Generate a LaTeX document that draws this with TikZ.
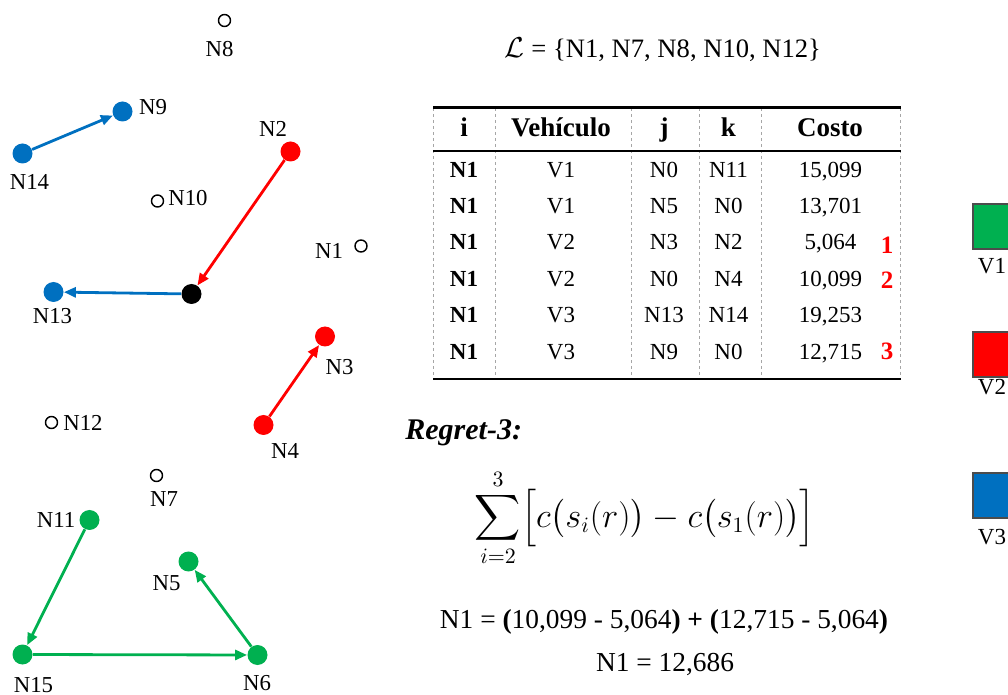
\documentclass[tikz,border=0pt]{standalone}
\usepackage{amsmath,amssymb}
\usepackage{fontspec}
\setmainfont{Liberation Serif}
\usepackage{tikz}
\usetikzlibrary{arrows.meta}

\definecolor{vgreen}{RGB}{0,176,80}
\definecolor{vred}{RGB}{255,0,0}
\definecolor{vblue}{RGB}{0,112,192}

\tikzset{
  visit/.style={circle, fill=#1, minimum size=10pt, inner sep=0pt},
  pending/.style={circle, draw=black, line width=0.7pt, minimum size=6pt, inner sep=0pt},
  lbl/.style={font=\fontsize{11.4}{13}\selectfont, inner sep=0pt},
  route/.style={draw=#1, line width=1.4pt, -{Triangle[length=6pt,width=5pt]}},
  cell/.style={font=\fontsize{11.5}{13}\selectfont, inner sep=0pt, anchor=base},
  head/.style={cell, font=\fontsize{13.5}{15}\selectfont\bfseries},
  legbox/.style={draw=black!70, line width=0.6pt, minimum size=22.5pt, inner sep=0pt},
}

\begin{document}
\begin{tikzpicture}[x=0.5pt, y=-0.5pt]
  \clip (0,0) rectangle (1008,695);

  % Knoten
  \node[pending] (N8) at (224.5,20.5) {};
  \node[pending] (N10) at (157.5,201) {};
  \node[pending] (N1) at (361,246) {};
  \node[pending] (N12) at (51.5,422.5) {};
  \node[pending] (N7) at (156.5,475.5) {};
  \node[visit=vblue] (N9) at (122.5,111.5) {};
  \node[visit=vblue] (N14) at (22.5,153.5) {};
  \node[visit=vblue] (N13) at (53.5,292) {};
  \node[visit=vred] (N2) at (290.5,151.5) {};
  \node[visit=vred] (N3) at (325,336.5) {};
  \node[visit=vred] (N4) at (263.5,425) {};
  \node[visit=black] (N0) at (191.5,294) {};
  \node[visit=vgreen] (N11) at (89.5,520) {};
  \node[visit=vgreen] (N5) at (188.5,561.5) {};
  \node[visit=vgreen] (N15) at (22.5,654.5) {};
  \node[visit=vgreen] (N6) at (257.5,655) {};

  \node[lbl] (tN8) at (219.5,49) {N8};
  \node[lbl] (tN9) at (153,107) {N9};
  \node[lbl] (tN14) at (29.5,182) {N14};
  \node[lbl] (tN2) at (273,128.5) {N2};
  \node[lbl] (tN10) at (188,198) {N10};
  \node[lbl] (tN1) at (329,250.5) {N1};
  \node[lbl] (tN13) at (52.5,316) {N13};
  \node[lbl] (tN3) at (339.5,367) {N3};
  \node[lbl] (tN4) at (285,451) {N4};
  \node[lbl] (tN12) at (83,423) {N12};
  \node[lbl] (tN7) at (164,499.5) {N7};
  \node[lbl] (tN11) at (56,519.5) {N11};
  \node[lbl] (tN5) at (166.5,583.5) {N5};
  \node[lbl] (tN15) at (33.5,685.5) {N15};
  \node[lbl] (tN6) at (257,683.5) {N6};

  % Rutas
  \draw[route=vblue] (N14) -- (N9);
  \draw[route=vred] (N2) -- (N0);
  \draw[route=vblue] (N0) -- (N13);
  \draw[route=vred] (N4) -- (N3);
  \draw[route=vgreen] (N11) -- (N15);
  \draw[route=vgreen] (N15) -- (N6);
  \draw[route=vgreen] (N6) -- (N5);

  % Lista
  \node[font=\fontsize{13.3}{15}\selectfont, inner sep=0pt, anchor=base] (lista) at (663,57.5)
    {$\mathcal{L}$ = \{N1, N7, N8, N10, N12\}};

  % Tabla
  \foreach \x in {433.5,495,631.5,699.5,761.5,900}
    \draw[black!35, line width=0.4pt, dash pattern=on 1.5pt off 1.5pt] (\x,108) -- (\x,379);
  \draw[line width=1.3pt] (433,107.5) -- (901,107.5);
  \draw[line width=1pt] (433,151.5) -- (901,151.5);
  \draw[line width=1.3pt] (433,379) -- (901,379);

  \node[head] (hi) at (464,136.5) {i};
  \node[head] (hveh) at (561,136.5) {Vehículo};
  \node[head] (hj) at (664,136.5) {j};
  \node[head] (hk) at (728.5,136.5) {k};
  \node[head] (hcosto) at (830,136.5) {Costo};

  \foreach \y/\v/\j/\k/\c [count=\r] in {177.3/V1/N0/N11/{15,099}, 213.3/V1/N5/N0/{13,701},
      250/V2/N3/N2/{5,064}, 286.7/V2/N0/N4/{10,099}, 322.7/V3/N13/N14/{19,253}, 359.3/V3/N9/N0/{12,715}} {
    \node[cell, font=\fontsize{11.5}{13}\selectfont\bfseries] (i\r) at (464,\y) {N1};
    \node[cell] (v\r) at (561,\y) {\v};
    \node[cell] (j\r) at (664,\y) {\j};
    \node[cell] (k\r) at (728.5,\y) {\k};
    \node[cell] (c\r) at (830.5,\y) {\c};
  }
  \node[cell, text=vred, font=\fontsize{12.5}{14}\selectfont\bfseries] (rank1) at (887,253.3) {1};
  \node[cell, text=vred, font=\fontsize{12.5}{14}\selectfont\bfseries] (rank2) at (887,288.3) {2};
  \node[cell, text=vred, font=\fontsize{12.5}{14}\selectfont\bfseries] (rank3) at (887,360) {3};

  % Leyenda
  \node[legbox, fill=vgreen] (sqV1) at (995.5,226.5) {};
  \node[legbox, fill=vred] (sqV2) at (995.5,354.5) {};
  \node[legbox, fill=vblue] (sqV3) at (995.5,495.5) {};
  \node[cell] (tV1) at (992,273.3) {V1};
  \node[cell] (tV2) at (992,395) {V2};
  \node[cell] (tV3) at (992,545) {V3};

  % Regret-3
  \node[anchor=base west, inner sep=0pt, font=\fontsize{15}{18}\selectfont\bfseries\itshape] (regret) at (405,439.5) {Regret-3:};
  \node[inner sep=0pt, font=\fontsize{16}{19}\selectfont] (suma) at (645,518)
    {$\displaystyle\sum_{i=2}^{3}\Bigl[c\bigl(s_i(r)\bigr)-c\bigl(s_1(r)\bigr)\Bigr]$};
  \node[anchor=base, inner sep=0pt, font=\fontsize{13.7}{16}\selectfont] (calc) at (664,628)
    {N1 = \textbf{(}10,099 - 5,064\textbf{)} \textbf{+} \textbf{(}12,715 - 5,064\textbf{)}};
  \node[anchor=base, inner sep=0pt, font=\fontsize{13.7}{16}\selectfont] (res) at (665,671.7) {N1 = 12,686};
\end{tikzpicture}
\end{document}
